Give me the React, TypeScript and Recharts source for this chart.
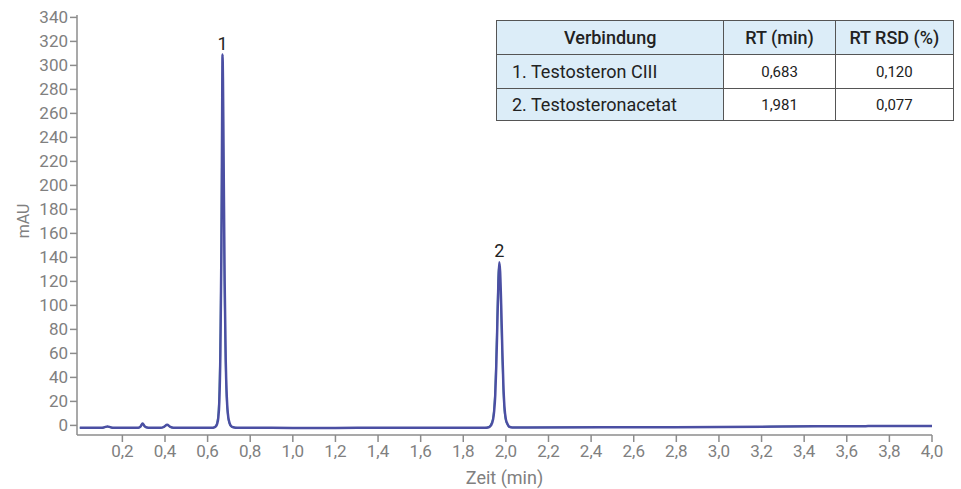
import React from "react";
import {
  LineChart,
  Line,
  XAxis,
  YAxis,
  ReferenceDot,
} from "recharts";

// Retention time (min)
const times = [
  0, 0.05, 0.1, 0.115, 0.13, 0.145, 0.16, 0.2, 0.25, 0.275, 0.285, 0.295, 0.305, 0.315, 0.33,
  0.38, 0.395, 0.41, 0.425, 0.44, 0.5, 0.55, 0.6, 0.62, 0.63, 0.64, 0.645, 0.65, 0.655, 0.66,
  0.665, 0.668, 0.67, 0.672, 0.675, 0.68, 0.685, 0.69, 0.695, 0.7, 0.705, 0.71, 0.72, 0.74,
  0.8, 1.0, 1.2, 1.4, 1.6, 1.85, 1.9, 1.92, 1.93, 1.94, 1.945, 1.95, 1.955, 1.96, 1.965,
  1.969, 1.973, 1.978, 1.983, 1.988, 1.993, 2.0, 2.008, 2.015, 2.03, 2.1, 2.5, 3.0, 3.3, 3.5,
  3.7, 4.0,
];

// Injection traces (mAU)
const traceBlue = [
  -2.0, -2.0, -2.0, -1.6, -0.9, -1.6, -2.0, -2.0, -2.0, -1.9, -1.0, 1.5, -0.8, -1.8, -2.0,
  -2.0, -1.2, 0.5, -1.3, -2.0, -2.0, -2.0, -2.0, -2.0, -1.8, -0.5, 1.5, 6, 20, 60,
  150, 250, 309, 290, 225, 120, 55, 24, 10, 4, 1, -0.5, -1.5, -2.0,
  -2.0, -2.1, -2.1, -2.0, -2.0, -2.0, -2.0, -1.5, 0, 5, 12, 25, 50, 85, 120,
  136, 128, 100, 65, 35, 16, 5, 1, -1.0, -1.8, -1.8, -1.6, -1.3, -1.0, -0.7,
  -0.6, -0.5,
];

const traceGreen = [
  -2.0, -2.0, -2.0, -1.6, -0.9, -1.6, -2.0, -2.0, -2.0, -1.9, -1.0, 1.5, -0.8, -1.8, -2.0,
  -2.0, -1.2, 0.5, -1.3, -2.0, -2.0, -2.0, -2.0, -2.0, -1.6, 0, 3, 10, 30, 78,
  175, 268, 300, 272, 200, 100, 45, 19, 8, 3, 0.5, -0.8, -1.6, -2.0,
  -2.0, -2.1, -2.1, -2.0, -2.0, -2.0, -2.0, -1.3, 1, 7, 16, 32, 62, 98, 128,
  134, 120, 88, 55, 28, 12, 3.5, 0.5, -1.2, -1.8, -1.8, -1.6, -1.3, -0.9, -0.6,
  -0.6, -0.5,
];

const xTicks = [
  0.2, 0.4, 0.6, 0.8, 1.0, 1.2, 1.4, 1.6, 1.8, 2.0, 2.2, 2.4, 2.6, 2.8, 3.0, 3.2, 3.4, 3.6,
  3.8, 4.0,
];
const yTicks = [0, 20, 40, 60, 80, 100, 120, 140, 160, 180, 200, 220, 240, 260, 280, 300, 320, 340];

const peaks = [
  { label: "1", t: 0.67, h: 309 },
  { label: "2", t: 1.969, h: 136 },
];

const tableHead = ["Verbindung", "RT (min)", "RT RSD (%)"];
const compounds = ["1. Testosteron CIII", "2. Testosteronacetat"];
const rtValues = ["0,683", "1,981"];
const rsdValues = ["0,120", "0,077"];

const data = times.map((t, i) => ({ t, blue: traceBlue[i], green: traceGreen[i] }));

const axisGray = "#8c8c8c";
const font = "Roboto, 'Noto Sans', sans-serif";
const lightBlue = "#dcedf8";

const cell: React.CSSProperties = {
  border: "1px solid #555",
  padding: 0,
  textAlign: "center",
  color: "#222",
};

export default function App() {
  return (
    <div style={{ position: "absolute", left: 0, top: 0, width: 961, height: 489, background: "#fff", fontFamily: font }}>
      <LineChart
        width={961}
        height={489}
        data={data}
        margin={{ top: 15, right: 29, bottom: 0, left: 17 }}
      >
        <XAxis
          dataKey="t"
          type="number"
          domain={[-0.013, 4.0]}
          ticks={xTicks}
          allowDataOverflow
          interval={0}
          height={54}
          tickSize={7}
          tickMargin={3}
          tickFormatter={(v: number) => v.toFixed(1).replace(".", ",")}
          stroke={axisGray}
          strokeWidth={1.5}
          tick={{ fill: "#808080", fontSize: 17, fontFamily: font }}
          label={{ value: "Zeit (min)", position: "insideBottom", offset: 5, fill: "#808080", fontSize: 18, fontFamily: font }}
        />
        <YAxis
          type="number"
          domain={[-8, 342]}
          ticks={yTicks}
          allowDataOverflow
          interval={0}
          width={60}
          tickSize={7}
          tickMargin={2}
          stroke={axisGray}
          strokeWidth={1.5}
          tick={{ fill: "#808080", fontSize: 17, fontFamily: font }}
          label={{ value: "mAU", angle: -90, position: "insideLeft", offset: 6, dy: -4, fill: "#808080", fontSize: 16, fontFamily: font, style: { textAnchor: "middle" } }}
        />
        <Line
          type="monotone"
          dataKey="green"
          stroke="#3f9f8c"
          strokeWidth={1.5}
          dot={false}
          isAnimationActive={false}
        />
        <Line
          type="monotone"
          dataKey="blue"
          stroke="#4b4fa3"
          strokeWidth={2.5}
          dot={false}
          isAnimationActive={false}
        />
        {peaks.map((p) => (
          <ReferenceDot
            key={p.label}
            x={p.t}
            y={p.h}
            r={0}
            ifOverflow="visible"
            label={{ value: p.label, position: "top", offset: 5, fill: "#222", fontSize: 18, fontFamily: font }}
          />
        ))}
      </LineChart>
      <table
        style={{
          position: "absolute",
          left: 496,
          top: 20,
          width: 458,
          borderCollapse: "collapse",
          fontFamily: font,
          background: "#fff",
        }}
      >
        <tbody>
          <tr style={{ height: 34, background: lightBlue }}>
            {tableHead.map((h, i) => (
              <td key={h} style={{ ...cell, width: i === 0 ? 227 : i === 1 ? 111 : 118, fontWeight: 500, fontSize: 18 }}>
                {h}
              </td>
            ))}
          </tr>
          {compounds.map((c, i) => (
            <tr key={c} style={{ height: i === 0 ? 34 : 32 }}>
              <td style={{ ...cell, background: lightBlue, textAlign: "left", paddingLeft: 15, fontSize: 18 }}>{c}</td>
              <td style={{ ...cell, fontSize: 15 }}>{rtValues[i]}</td>
              <td style={{ ...cell, fontSize: 15 }}>{rsdValues[i]}</td>
            </tr>
          ))}
        </tbody>
      </table>
    </div>
  );
}
